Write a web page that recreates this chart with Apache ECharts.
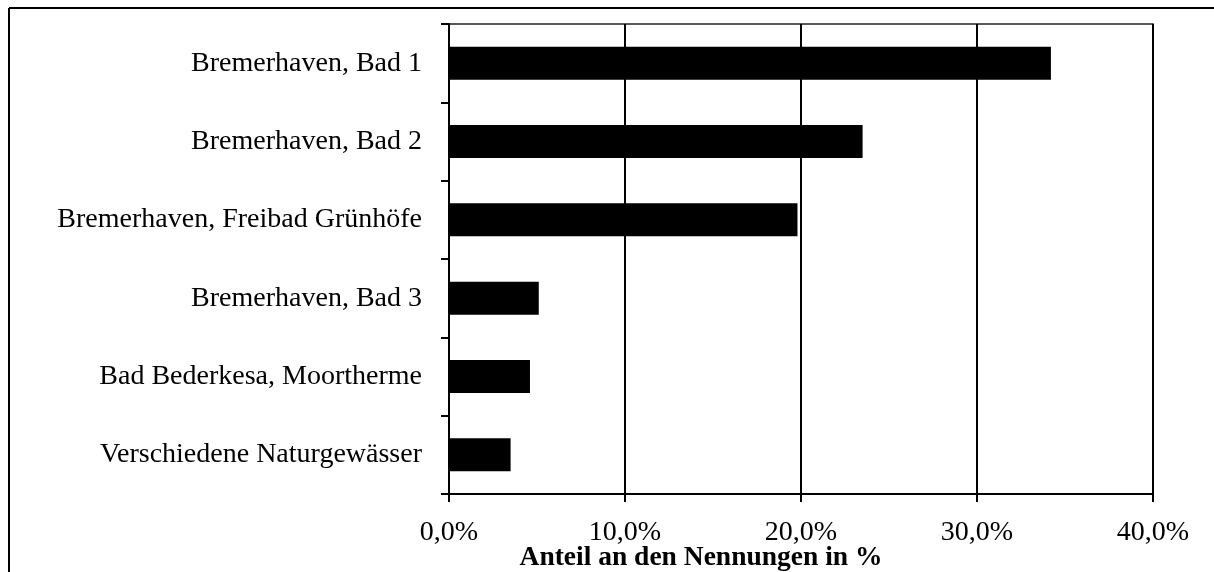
<!DOCTYPE html>
<html>
<head>
<meta charset="utf-8">
<script src="https://cdn.jsdelivr.net/npm/echarts@6/dist/echarts.min.js"></script>
<style>
  html, body { margin: 0; padding: 0; background: #fff; }
  #chart { width: 1214px; height: 572px; }
</style>
</head>
<body>
<div id="chart"></div>
<script>
// Bathing places named by respondents, share of mentions in percent
const categories = [
  'Bremerhaven, Bad 1',
  'Bremerhaven, Bad 2',
  'Bremerhaven, Freibad Grünhöfe',
  'Bremerhaven, Bad 3',
  'Bad Bederkesa, Moortherme',
  'Verschiedene Naturgewässer'
];
const shares = [34.2, 23.5, 19.8, 5.1, 4.6, 3.5];
const axisTitle = 'Anteil an den Nennungen in %';

const serif = '"Liberation Serif", "Times New Roman", serif';

const chart = echarts.init(document.getElementById('chart'), null, { renderer: 'canvas' });

chart.setOption({
  animation: false,
  backgroundColor: '#fff',
  grid: {
    left: 449, right: 61, top: 24, bottom: 78,
    show: true, borderColor: '#222', borderWidth: 1.5, backgroundColor: 'transparent'
  },
  xAxis: {
    type: 'value',
    min: 0, max: 40, interval: 10,
    axisLine: { show: true, lineStyle: { color: '#000', width: 2 } },
    axisTick: { show: true, length: 8, lineStyle: { color: '#000', width: 2 } },
    axisLabel: {
      margin: 25, color: '#000', fontFamily: serif, fontSize: 28,
      formatter: v => v.toFixed(1).replace('.', ',') + '%'
    },
    splitLine: { show: true, lineStyle: { color: '#000', width: 2 } }
  },
  yAxis: {
    type: 'category',
    data: categories,
    inverse: true,
    axisLine: { show: true, lineStyle: { color: '#000', width: 2 } },
    axisTick: { show: true, length: 8, lineStyle: { color: '#000', width: 2 } },
    axisLabel: { margin: 27, color: '#000', fontFamily: serif, fontSize: 28 },
    splitLine: { show: false }
  },
  series: [{
    type: 'bar',
    data: shares,
    barWidth: 33,
    itemStyle: { color: '#000' }
  }],
  graphic: [
    // frame lines along the top and left edge
    { type: 'line', shape: { x1: 9, y1: 8, x2: 1214, y2: 8 }, style: { stroke: '#000', lineWidth: 2 } },
    { type: 'line', shape: { x1: 9, y1: 8, x2: 9, y2: 572 }, style: { stroke: '#000', lineWidth: 2 } },
    {
      type: 'text', x: 701, y: 558,
      style: {
        text: axisTitle, fill: '#000', font: 'bold 27.5px ' + serif,
        textAlign: 'center', textVerticalAlign: 'middle'
      }
    }
  ]
});
</script>
</body>
</html>
